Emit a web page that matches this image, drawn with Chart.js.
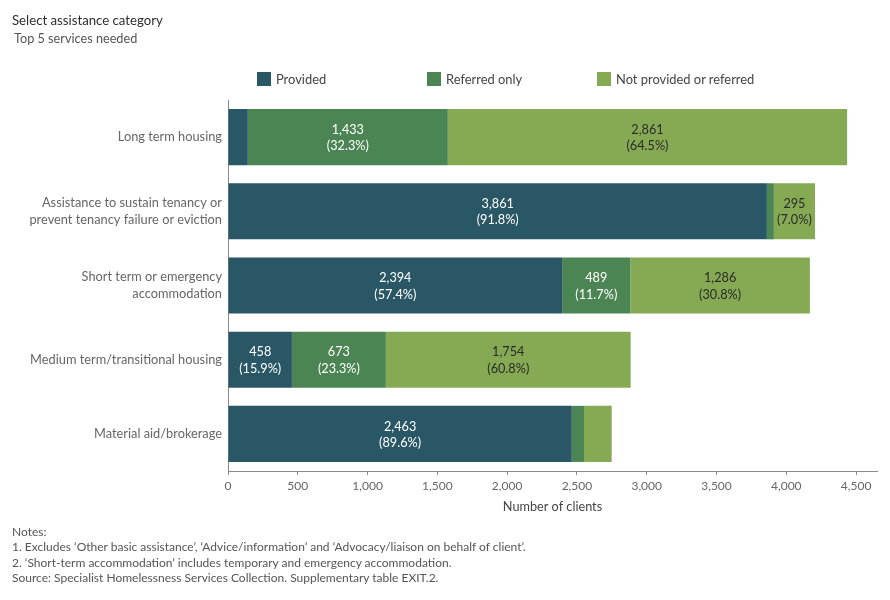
<!DOCTYPE html>
<html>
<head>
<meta charset="utf-8">
<script src="https://cdn.jsdelivr.net/npm/chart.js@4/dist/chart.umd.min.js"></script>
<style>
  html, body { margin: 0; padding: 0; background: #fff; }
  body { width: 890px; height: 600px; position: relative; overflow: hidden; font-family: 'Lato', 'Open Sans', sans-serif; }
  #wrap { position: absolute; left: 0; top: 0; width: 890px; height: 600px; }
  .t { position: absolute; white-space: nowrap; }
  #title { left: 12px; top: 12px; font-size: 13.2px; color: #2e2e2e; }
  #subtitle { left: 14px; top: 30px; font-size: 12.7px; color: #555; }
  #legend .item { position: absolute; top: 72px; height: 15px; font-size: 12.9px; color: #444; }
  #legend .box { position: absolute; left: 0; top: 0px; width: 14px; height: 14px; }
  #legend .lab { position: absolute; left: 19px; top: -1px; white-space: nowrap; }
  #notes { left: 12px; top: 524px; font-size: 12px; color: #555; line-height: 15.4px; }
</style>
</head>
<body>
<div id="wrap"><canvas id="c" width="890" height="600"></canvas></div>
<div class="t" id="title">Select assistance category</div>
<div class="t" id="subtitle">Top 5 services needed</div>
<div id="legend"></div>
<div class="t" id="notes"></div>
<script>
// ---- data ----
const categories = [
  ['Long term housing'],
  ['Assistance to sustain tenancy or', 'prevent tenancy failure or eviction'],
  ['Short term or emergency', 'accommodation'],
  ['Medium term/transitional housing'],
  ['Material aid/brokerage']
];
const seriesNames = ['Provided', 'Referred only', 'Not provided or referred'];
const provided = [142, 3861, 2394, 458, 2463];
const referredOnly = [1433, 50, 489, 673, 88];
const notProvided = [2861, 295, 1286, 1754, 198];
const xTickValues = [0, 500, 1000, 1500, 2000, 2500, 3000, 3500, 4000, 4500];
const xAxisTitle = 'Number of clients';
const notesLines = [
  'Notes:',
  "1. Excludes \u2018Other basic assistance\u2019, \u2018Advice/information\u2019 and \u2018Advocacy/liaison on behalf of client\u2019.",
  "2. \u2018Short-term accommodation\u2019 includes temporary and emergency accommodation.",
  'Source: Specialist Homelessness Services Collection. Supplementary table EXIT.2.'
];

// ---- styles ----
const colors = ['#2a5766', '#4b8553', '#86aa53'];
const labelColors = ['#ffffff', '#ffffff', '#2b2b2b'];
const FONT = "'Lato', 'Open Sans', sans-serif";

// legend (HTML, fixed Tableau-like columns)
const legendX = [257, 427, 597];
const legendEl = document.getElementById('legend');
seriesNames.forEach((n, i) => {
  const d = document.createElement('div');
  d.className = 'item';
  d.style.left = legendX[i] + 'px';
  d.innerHTML = '<div class="box" style="background:' + colors[i] + '"></div><div class="lab"></div>';
  d.querySelector('.lab').textContent = n;
  legendEl.appendChild(d);
});
document.getElementById('notes').innerHTML = notesLines.map(s => s.replace(/&/g,'&amp;').replace(/</g,'&lt;')).join('<br>');

const seriesData = [provided, referredOnly, notProvided];
const totals = categories.map((_, i) => provided[i] + referredOnly[i] + notProvided[i]);

const segLabels = {
  id: 'segLabels',
  afterDatasetsDraw(chart) {
    const ctx = chart.ctx;
    ctx.save();
    ctx.font = '12.7px ' + FONT;
    ctx.textAlign = 'center';
    ctx.textBaseline = 'middle';
    chart.data.datasets.forEach((ds, di) => {
      const meta = chart.getDatasetMeta(di);
      meta.data.forEach((el, i) => {
        const w = Math.abs(el.x - el.base);
        if (w < 35) return;
        const v = ds.data[i];
        const pct = (v / totals[i] * 100).toFixed(1) + '%';
        const cx = (el.x + el.base) / 2;
        ctx.fillStyle = labelColors[di];
        ctx.fillText(v.toLocaleString('en-US'), cx, el.y - 7.5);
        ctx.fillText('(' + pct + ')', cx, el.y + 9);
      });
    });
    ctx.restore();
  }
};

new Chart(document.getElementById('c'), {
  type: 'bar',
  data: {
    labels: categories,
    datasets: seriesNames.map((n, i) => ({
      label: n,
      data: seriesData[i],
      backgroundColor: colors[i],
      borderWidth: 0,
      barPercentage: 0.756,
      categoryPercentage: 1.0
    }))
  },
  options: {
    indexAxis: 'y',
    responsive: false,
    animation: false,
    devicePixelRatio: 1,
    layout: { padding: { left: 0, top: 100, right: 13, bottom: 79 } },
    plugins: { legend: { display: false }, tooltip: { enabled: false }, title: { display: false } },
    scales: {
      x: {
        stacked: true,
        min: 0,
        max: 4650,
        afterBuildTicks(scale) { scale.ticks = xTickValues.map(v => ({ value: v })); },
        afterFit(scale) { scale.height = 50; },
        grid: { drawOnChartArea: false, drawTicks: true, tickLength: 4, color: '#8a8a8a', lineWidth: 1 },
        border: { display: true, color: '#8a8a8a', width: 1 },
        ticks: {
          color: '#666',
          font: { family: FONT, size: 12 },
          padding: 4,
          maxRotation: 0,
          callback: v => Number(v).toLocaleString('en-US')
        },
        title: { display: true, text: xAxisTitle, color: '#444', font: { family: FONT, size: 12.7 }, padding: { top: 4, bottom: 6 } }
      },
      y: {
        stacked: true,
        afterFit(scale) { scale.width = 228; },
        grid: { display: false, drawTicks: false },
        border: { display: true, color: '#8a8a8a', width: 1 },
        ticks: {
          color: '#666',
          font: { family: FONT, size: 12.8, lineHeight: 1.33 },
          padding: 6,
          crossAlign: 'near'
        }
      }
    }
  },
  plugins: [segLabels]
});
</script>
</body>
</html>
